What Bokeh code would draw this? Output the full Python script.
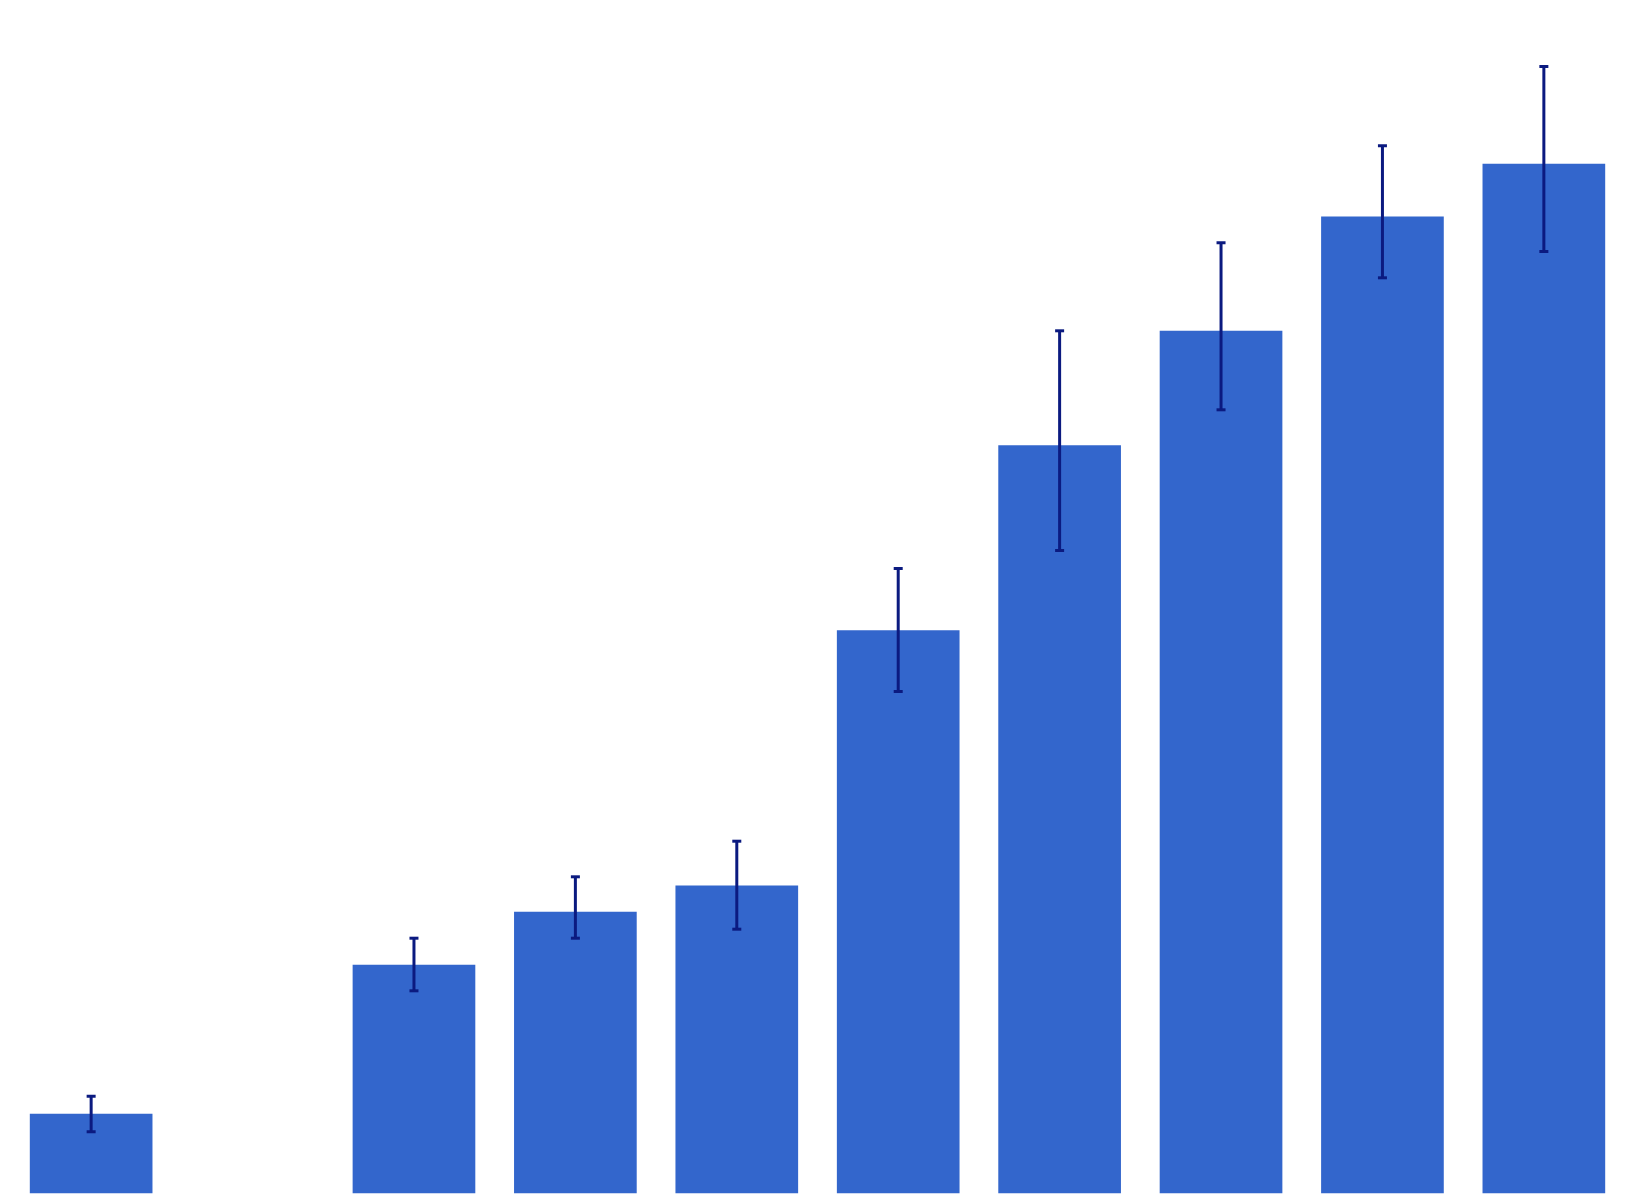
from bokeh.plotting import figure
from bokeh.models import ColumnDataSource, Whisker, TeeHead, Range1d
from bokeh.embed import file_html
from bokeh.resources import INLINE

# data
positions = [0, 2, 3, 4, 5, 6, 7, 8, 9]
values = [7.94, 22.84, 28.14, 30.77, 56.3, 74.8, 86.24, 97.67, 102.94]
err_low = [6.14, 20.24, 25.5, 26.4, 50.17, 64.27, 78.34, 91.54, 94.17]
err_high = [9.7, 25.5, 31.64, 35.2, 62.47, 86.24, 95.04, 104.74, 112.67]

p = figure(width=1626, height=1195, output_backend="svg", toolbar_location=None,
           x_range=Range1d(-0.512, 9.512), y_range=Range1d(-0.23, 118.47),
           min_border=0, min_border_left=8, min_border_top=8)
p.axis.visible = False
p.xgrid.visible = False
p.ygrid.visible = False
p.outline_line_color = None
p.background_fill_color = "white"

src = ColumnDataSource(dict(x=positions, top=values, lo=err_low, hi=err_high))
p.vbar(x="x", top="top", bottom=0, width=0.76, source=src,
       fill_color="#3366cc", line_color=None)

w = Whisker(base="x", lower="lo", upper="hi", source=src, level="overlay",
            line_color="#0b1a80", line_width=3,
            upper_head=TeeHead(size=9, line_color="#0b1a80", line_width=3),
            lower_head=TeeHead(size=9, line_color="#0b1a80", line_width=3))
p.add_layout(w)

open("out.html", "w").write(file_html(p, INLINE))
